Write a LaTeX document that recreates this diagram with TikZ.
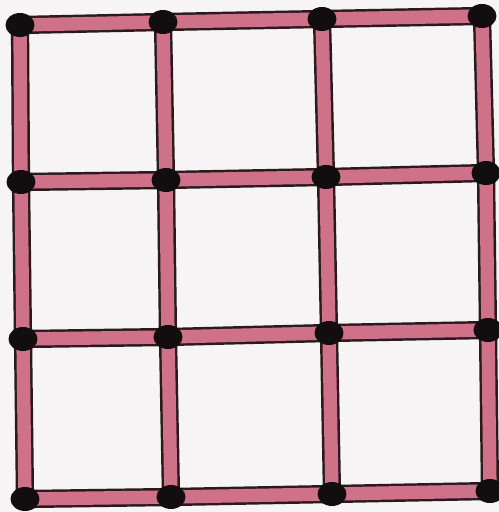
\documentclass[tikz,border=0pt]{standalone}
\usepackage{xcolor}
\usepackage{tikz}
\usetikzlibrary{positioning,shapes.geometric,backgrounds}
\definecolor{paper}{HTML}{F6F4F5}
\definecolor{stickpink}{HTML}{CE7189}
\definecolor{stickedge}{HTML}{2A1A1E}
\definecolor{headblack}{HTML}{120D0F}

\begin{document}
\begin{tikzpicture}[x=0.02cm, y=-0.02cm,
  head/.style={ellipse, fill=headblack, inner sep=0pt, minimum width=0.58cm, minimum height=0.48cm},
  stick/.style={draw=stickedge, line width=1.4pt, double=stickpink, double distance=7.6pt}]
  \useasboundingbox (0,0) rectangle (499,512);
  % matchstick heads, row by row
  \node[head] (a1) at (20,25) {};
  \node[head] (a2) at (163,22) {};
  \node[head] (a3) at (322,19) {};
  \node[head] (a4) at (482,16) {};
  \node[head] (b1) at (21,182) {};
  \node[head] (b2) at (166,180) {};
  \node[head] (b3) at (326,177) {};
  \node[head] (b4) at (486,173) {};
  \node[head] (c1) at (23,339) {};
  \node[head] (c2) at (168,337) {};
  \node[head] (c3) at (329,333) {};
  \node[head] (c4) at (488,330) {};
  \node[head] (d1) at (25,499) {};
  \node[head] (d2) at (171,497) {};
  \node[head] (d3) at (332,494) {};
  \node[head] (d4) at (490,491) {};
  \begin{scope}[on background layer]
    \fill[paper] (0,0) rectangle (499,512);
    % horizontal sticks
    \draw[stick] (a1.center) -- (a2.center) -- (a3.center) -- (a4.center);
    \draw[stick] (b1.center) -- (b2.center) -- (b3.center) -- (b4.center);
    \draw[stick] (c1.center) -- (c2.center) -- (c3.center) -- (c4.center);
    \draw[stick] (d1.center) -- (d2.center) -- (d3.center) -- (d4.center);
    % vertical sticks
    \draw[stick] (a1.center) -- (b1.center) -- (c1.center) -- (d1.center);
    \draw[stick] (a2.center) -- (b2.center) -- (c2.center) -- (d2.center);
    \draw[stick] (a3.center) -- (b3.center) -- (c3.center) -- (d3.center);
    \draw[stick] (a4.center) -- (b4.center) -- (c4.center) -- (d4.center);
  \end{scope}
\end{tikzpicture}
\end{document}
